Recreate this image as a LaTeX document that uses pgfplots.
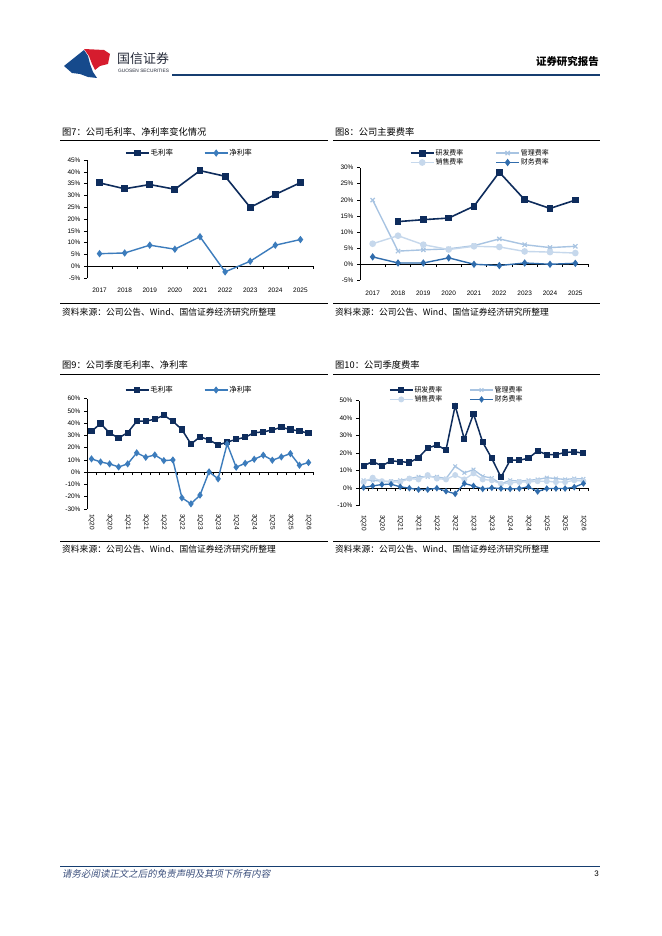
\documentclass[border=0pt]{standalone}
\usepackage{fontspec}
\usepackage{pgfplots}
\pgfplotsset{compat=1.18}
\setmainfont{Liberation Sans}
\newfontfamily\cjk{Noto Sans CJK SC}
\newfontfamily\cjkit[FakeSlant=0.2]{Noto Sans CJK SC}
\definecolor{navy}{RGB}{14,44,92}
\definecolor{midblue}{RGB}{60,124,188}
\definecolor{finblue}{RGB}{48,108,172}
\definecolor{mgmt}{RGB}{168,196,226}
\definecolor{sales}{RGB}{198,216,236}
\definecolor{logored}{RGB}{214,28,46}
\definecolor{logoblue}{RGB}{22,74,140}
\definecolor{footblue}{RGB}{60,80,125}
\definecolor{hdrline}{RGB}{22,62,112}

\pgfplotsset{
  base/.style={
    scale only axis, axis y line*=left, axis x line*=middle,
    hide obscured x ticks=false, hide obscured y ticks=false,
    tick align=outside, major tick length=3bp, minor tick length=3bp,
    every tick/.append style={black, line width=0.5bp},
    major x tick style={draw=none},
    axis line style={black, line width=0.6bp},
    tick label style={font=\fontsize{6.5}{7}\selectfont, black},
    /pgf/number format/assume math mode=true,
    yticklabel={\pgfmathprintnumber{\tick}\%},
    clip=false,
    legend cell align=left,
    legend style={draw=none, fill=none, inner sep=0pt, outer sep=0pt,
      font=\cjk\fontsize{7}{8}\selectfont, nodes={inner sep=1bp}},
    legend image code/.code={\draw[mark repeat=2,mark phase=2,##1] plot coordinates {(0bp,0bp) (11.5bp,0bp) (23bp,0bp)};},
  },
}

\begin{document}
\begin{tikzpicture}
\useasboundingbox (0,0) rectangle (662bp,936bp);
\fill[white] (0,0) rectangle (662bp,936bp);

% ---------- header ----------
\fill[logoblue] (64bp,870bp) -- (84bp,886bp) -- (88bp,880bp) -- (90bp,872bp) -- (93bp,864bp) -- (97bp,858bp) -- (88bp,859bp) -- (80bp,862bp) -- (72bp,863bp) -- cycle;
\fill[logored] (84bp,887bp) -- (104bp,886bp) -- (110bp,882bp) -- (108bp,872bp) -- (100bp,870bp) -- (95bp,866bp) -- (92bp,872bp) -- (89bp,880bp) -- cycle;
\node[anchor=west, inner sep=0pt, font=\cjk\fontsize{13}{14}\selectfont, text={rgb,255:red,35;green,40;blue,55}] at (117bp,877bp) {国信证券};
\node[anchor=west, inner sep=0pt, font=\fontsize{4.8}{5}\selectfont, text={rgb,255:red,35;green,40;blue,55}] at (118bp,865bp) {GUOSEN SECURITIES};
\draw[hdrline, line width=1.8bp] (172bp,861bp) -- (600bp,861bp);
\node[anchor=east, inner sep=0pt, font=\cjk\bfseries\fontsize{10.5}{11}\selectfont] at (599bp,874bp) {证券研究报告};

% ---------- titles and sources ----------
\node[anchor=west, inner sep=0pt, font=\cjk\fontsize{9.3}{10}\selectfont] at (62bp,804.3bp) {图7：公司毛利率、净利率变化情况};
\node[anchor=west, inner sep=0pt, font=\cjk\fontsize{9.3}{10}\selectfont] at (335bp,804.3bp) {图8：公司主要费率};
\draw[black, line width=0.8bp] (60bp,795.3bp) -- (328bp,795.3bp);
\draw[black, line width=0.8bp] (333bp,795.3bp) -- (600bp,795.3bp);
\draw[black, line width=0.8bp] (60bp,632.7bp) -- (328bp,632.7bp);
\draw[black, line width=0.8bp] (333bp,632.7bp) -- (600bp,632.7bp);
\node[anchor=west, inner sep=0pt, font=\cjk\fontsize{8.8}{10}\selectfont] at (62bp,623.5bp) {资料来源：公司公告、Wind、国信证券经济研究所整理};
\node[anchor=west, inner sep=0pt, font=\cjk\fontsize{8.8}{10}\selectfont] at (335bp,623.5bp) {资料来源：公司公告、Wind、国信证券经济研究所整理};

\node[anchor=west, inner sep=0pt, font=\cjk\fontsize{9.3}{10}\selectfont] at (62bp,571bp) {图9：公司季度毛利率、净利率};
\node[anchor=west, inner sep=0pt, font=\cjk\fontsize{9.3}{10}\selectfont] at (335bp,571bp) {图10：公司季度费率};
\draw[black, line width=0.8bp] (60bp,561.7bp) -- (328bp,561.7bp);
\draw[black, line width=0.8bp] (333bp,561.7bp) -- (600bp,561.7bp);
\draw[black, line width=0.8bp] (60bp,395bp) -- (328bp,395bp);
\draw[black, line width=0.8bp] (333bp,395bp) -- (600bp,395bp);
\node[anchor=west, inner sep=0pt, font=\cjk\fontsize{8.8}{10}\selectfont] at (62bp,387bp) {资料来源：公司公告、Wind、国信证券经济研究所整理};
\node[anchor=west, inner sep=0pt, font=\cjk\fontsize{8.8}{10}\selectfont] at (335bp,387bp) {资料来源：公司公告、Wind、国信证券经济研究所整理};

% ---------- footer ----------
\draw[hdrline, line width=0.8bp] (60bp,70bp) -- (600bp,70bp);
\node[anchor=west, inner sep=0pt, font=\cjkit\fontsize{9.5}{10}\selectfont, text=footblue] at (62bp,62bp) {请务必阅读正文之后的免责声明及其项下所有内容};
\node[anchor=east, inner sep=0pt, font=\fontsize{8}{9}\selectfont] at (599bp,62bp) {3};

% ---------- Chart 7 ----------
\begin{axis}[base, at={(87bp,658bp)}, anchor=south west, width=226bp, height=118bp,
  xmin=-0.5, xmax=8.5, ymin=-5, ymax=45, ytick={-5,0,...,45},
  xtick={0,...,8}, xticklabels={2017,2018,2019,2020,2021,2022,2023,2024,2025},
  minor xtick={-0.5,0.5,...,8.5},
  xticklabel style={anchor=center, yshift=-21bp},
  legend columns=2,
  legend style={at={(axis description cs:0.168,1.059)}, anchor=west, font=\cjk\fontsize{7.5}{8}\selectfont,
    /tikz/every even column/.append style={column sep=30bp}}]
\addplot[navy, line width=1.6bp, mark=square*, mark size=2.6bp, mark options={solid, fill=navy}]
  coordinates {(0,35.3) (1,32.8) (2,34.6) (3,32.6) (4,40.5) (5,38.1) (6,24.9) (7,30.4) (8,35.4)};
\addlegendentry{毛利率}
\addplot[midblue, line width=1.4bp, mark=diamond*, mark size=2.6bp, mark options={solid, fill=midblue}]
  coordinates {(0,5.3) (1,5.6) (2,8.9) (3,7.2) (4,12.5) (5,-2.4) (6,2.1) (7,8.9) (8,11.3)};
\addlegendentry{净利率}
\end{axis}

% ---------- Chart 8 ----------
\begin{axis}[base, at={(360bp,656bp)}, anchor=south west, width=228bp, height=112.3bp,
  xmin=-0.5, xmax=8.5, ymin=-5, ymax=30, ytick={-5,0,...,30},
  xtick={0,...,8}, xticklabels={2017,2018,2019,2020,2021,2022,2023,2024,2025},
  minor xtick={-0.5,0.5,...,8.5},
  xticklabel style={anchor=center, yshift=-26bp},
  legend columns=2,
  legend style={at={(axis description cs:0.219,1.088)}, anchor=west,
    /tikz/every even column/.append style={column sep=31bp}}]
\addplot[navy, line width=1.6bp, mark=square*, mark size=2.6bp, mark options={solid, fill=navy}]
  coordinates {(1,13.2) (2,13.8) (3,14.3) (4,18.0) (5,28.6) (6,20.0) (7,17.3) (8,19.9)};
\addlegendentry{研发费率}
\addplot[mgmt, line width=1.4bp, mark=x, mark size=3bp, mark options={solid, line width=1.2bp}]
  coordinates {(0,19.9) (1,4.0) (2,4.4) (3,4.7) (4,5.7) (5,7.8) (6,6.0) (7,5.1) (8,5.5)};
\addlegendentry{管理费率}
\addplot[sales, line width=1.4bp, mark=*, mark size=2.6bp, mark options={solid, fill=sales}]
  coordinates {(0,6.3) (1,8.8) (2,6.0) (3,4.5) (4,5.5) (5,5.3) (6,3.9) (7,3.7) (8,3.4)};
\addlegendentry{销售费率}
\addplot[finblue, line width=1.4bp, mark=diamond*, mark size=2.6bp, mark options={solid, fill=finblue}]
  coordinates {(0,2.2) (1,0.3) (2,0.3) (3,1.9) (4,-0.1) (5,-0.5) (6,0.3) (7,-0.1) (8,0.2)};
\addlegendentry{财务费率}
\end{axis}

% ---------- Chart 9 ----------
\begin{axis}[base, at={(87bp,427bp)}, anchor=south west, width=226bp, height=110.3bp,
  xmin=-0.5, xmax=24.5, ymin=-30, ymax=60, ytick={-30,-20,...,60},
  xtick={0,2,...,24}, xticklabels={1Q20,3Q20,1Q21,3Q21,1Q22,3Q22,1Q23,3Q23,1Q24,3Q24,1Q25,3Q25,1Q26},
  minor xtick={-0.5,0.5,...,24.5},
  xticklabel style={yshift=-35.5bp, rotate=-90, anchor=west},
  legend columns=2,
  legend style={at={(axis description cs:0.168,1.079)}, anchor=west, font=\cjk\fontsize{7.5}{8}\selectfont,
    /tikz/every even column/.append style={column sep=30bp}}]
\addplot[navy, line width=1.5bp, mark=square*, mark size=2.4bp, mark options={solid, fill=navy}]
  coordinates {(0,33.4) (1,39.7) (2,32.0) (3,28.0) (4,32.3) (5,41.6) (6,41.8) (7,43.2) (8,46.5) (9,41.6) (10,34.8) (11,23.0) (12,28.9) (13,26.4) (14,22.3) (15,24.5) (16,26.9) (17,28.5) (18,32.3) (19,32.9) (20,34.5) (21,36.7) (22,34.8) (23,33.7) (24,31.8)};
\addlegendentry{毛利率}
\addplot[midblue, line width=1.4bp, mark=diamond*, mark size=2.5bp, mark options={solid, fill=midblue}]
  coordinates {(0,10.9) (1,8.4) (2,6.8) (3,4.3) (4,6.8) (5,15.8) (6,12.2) (7,14.1) (8,9.5) (9,10.0) (10,-20.9) (11,-25.8) (12,-18.7) (13,0.3) (14,-5.4) (15,23.1) (16,4.1) (17,7.3) (18,10.6) (19,13.9) (20,9.8) (21,12.5) (22,15.2) (23,5.7) (24,7.9)};
\addlegendentry{净利率}
\end{axis}

% ---------- Chart 10 ----------
\begin{axis}[base, at={(359bp,430.3bp)}, anchor=south west, width=229bp, height=105bp,
  xmin=-0.5, xmax=24.5, ymin=-10, ymax=50, ytick={-10,0,...,50},
  xtick={0,2,...,24}, xticklabels={1Q20,3Q20,1Q21,3Q21,1Q22,3Q22,1Q23,3Q23,1Q24,3Q24,1Q25,3Q25,1Q26},
  minor xtick={-0.5,0.5,...,24.5},
  xticklabel style={yshift=-20.5bp, rotate=-90, anchor=west},
  legend columns=2,
  legend style={at={(axis description cs:0.131,1.057)}, anchor=west,
    /tikz/every even column/.append style={column sep=26bp}}]
\addplot[navy, line width=1.5bp, mark=square*, mark size=2.3bp, mark options={solid, fill=navy}]
  coordinates {(0,12.8) (1,15.2) (2,12.8) (3,15.6) (4,15.2) (5,14.7) (6,17.5) (7,23.0) (8,24.6) (9,21.9) (10,47.2) (11,28.0) (12,42.5) (13,26.3) (14,17.0) (15,6.3) (16,16.0) (17,16.0) (18,17.1) (19,21.3) (20,19.2) (21,19.2) (22,20.4) (23,20.8) (24,20.0)};
\addlegendentry{研发费率}
\addplot[mgmt, line width=1.3bp, mark=x, mark size=2.6bp, mark options={solid, line width=1bp}]
  coordinates {(0,4.5) (1,4.5) (2,4.0) (3,4.0) (4,4.5) (5,5.5) (6,6.5) (7,6.5) (8,6.5) (9,5.5) (10,12.5) (11,8.8) (12,10.6) (13,6.8) (14,5.8) (15,2.5) (16,4.5) (17,4.0) (18,4.5) (19,5.0) (20,6.0) (21,5.5) (22,5.0) (23,5.5) (24,5.3)};
\addlegendentry{管理费率}
\addplot[sales, line width=1.3bp, mark=*, mark size=2.3bp, mark options={solid, fill=sales}]
  coordinates {(0,3.5) (1,6.0) (2,4.0) (3,3.5) (4,3.5) (5,5.5) (6,5.0) (7,7.5) (8,5.5) (9,5.0) (10,7.5) (11,5.0) (12,8.5) (13,5.0) (14,4.5) (15,2.5) (16,3.0) (17,3.5) (18,3.5) (19,4.0) (20,4.0) (21,3.5) (22,3.5) (23,4.5) (24,4.0)};
\addlegendentry{销售费率}
\addplot[finblue, line width=1.3bp, mark=diamond*, mark size=2.3bp, mark options={solid, fill=finblue}]
  coordinates {(0,0.4) (1,1.3) (2,2.1) (3,2.3) (4,0.8) (5,0.0) (6,-0.8) (7,-0.8) (8,0.0) (9,-1.7) (10,-3.2) (11,2.7) (12,1.3) (13,-0.4) (14,0.2) (15,-0.2) (16,-0.4) (17,-0.2) (18,0.8) (19,-1.9) (20,-0.2) (21,-0.2) (22,-0.2) (23,0.6) (24,2.7)};
\addlegendentry{财务费率}
\end{axis}
\end{tikzpicture}
\end{document}
